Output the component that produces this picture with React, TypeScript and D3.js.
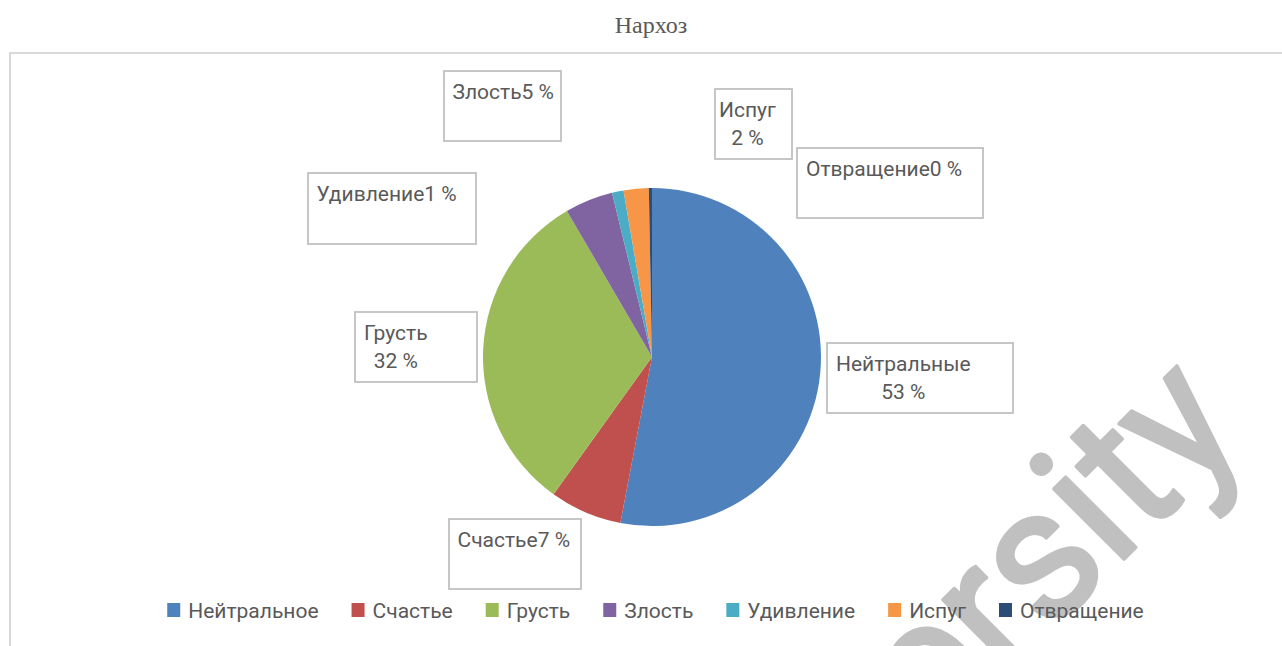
import React, { useMemo } from 'react';
import * as d3 from 'd3';

// ---- data ----
const title = 'Нархоз';
const categories = ['Нейтральное', 'Счастье', 'Грусть', 'Злость', 'Удивление', 'Испуг', 'Отвращение'];
const labelNames = ['Нейтральные', 'Счастье', 'Грусть', 'Злость', 'Удивление', 'Испуг', 'Отвращение'];
const values = [53.0, 6.9, 31.7, 4.6, 1.1, 2.4, 0.3];
const colors = ['#4F81BD', '#C0504D', '#9BBB59', '#8064A2', '#4BACC6', '#F79646', '#2C4D75'];
const watermark = 'University';

// ---- layout (label boxes relative to pie centre) ----
const labelLayout = [
  { dx: 175, dy: -14, w: 186, h: 70, pad: 9, wrap: true },
  { dx: -203, dy: 162, w: 132, h: 70, pad: 8.5, wrap: false },
  { dx: -297, dy: -45, w: 122, h: 70, pad: 9, wrap: true },
  { dx: -208, dy: -286, w: 117, h: 70, pad: 8.5, wrap: false },
  { dx: -344, dy: -184, w: 168, h: 71, pad: 8.5, wrap: false },
  { dx: 63, dy: -268, w: 77, h: 70, pad: 4, wrap: true },
  { dx: 145, dy: -209, w: 186, h: 70, pad: 9, wrap: false },
];

const W = 1282;
const H = 646;
const CX = 652;
const CY = 357;
const R = 169;
const SANS = 'Roboto, "Noto Sans", sans-serif';
const FS = 21;
const TEXT = '#595959';

let ctx: CanvasRenderingContext2D | null = null;
function measure(s: string, size = FS, font = SANS) {
  if (!ctx) ctx = document.createElement('canvas').getContext('2d');
  if (!ctx) return s.length * size * 0.5;
  ctx.font = `${size}px ${font}`;
  return ctx.measureText(s).width;
}

export default function App() {
  const arcs = useMemo(() => d3.pie<number>().sort(null).value((d) => d)(values), []);
  const arc = d3.arc<d3.PieArcDatum<number>>().innerRadius(0).outerRadius(R);
  const total = d3.sum(values);
  const pct = (v: number) => `${Math.round((v / total) * 100)} %`;

  // legend layout
  const sq = 13;
  const sqGap = 8;
  const itemGap = 33;
  const widths = categories.map((c) => measure(c));
  const itemW = widths.map((w) => sq + sqGap + w);
  const legendTotal = d3.sum(itemW) + itemGap * (categories.length - 1);
  const legendX0 = 655.5 - legendTotal / 2;
  const legendXs = itemW.map((_, i) => legendX0 + d3.sum(itemW.slice(0, i)) + itemGap * i);
  const legendBaseline = 618;

  // watermark geometry: anchor at the stem of the last "i" on the baseline
  const wmAngle = -45;
  const wmSize = 182;
  const wmFont = 'Roboto, sans-serif';
  const rad = (wmAngle * Math.PI) / 180;
  const anchorX = 1130;
  const anchorY = 553;
  const before = measure('Univers', wmSize, wmFont) + measure('i', wmSize, wmFont) / 2;
  const wmX = anchorX - before * Math.cos(rad);
  const wmY = anchorY - before * Math.sin(rad);

  return (
    <svg
      width={W}
      height={H}
      style={{ position: 'fixed', left: 0, top: 0, background: '#fff' }}
      fontFamily={SANS}
    >
      <rect x={0} y={0} width={W} height={H} fill="#fff" />
      <text x={651} y={33} textAnchor="middle" fontFamily='"Liberation Serif", "Times New Roman", serif' fontSize={24} fill={TEXT}>
        {title}
      </text>
      <rect x={10} y={53} width={W + 20} height={H} fill="none" stroke="#d9d9d9" strokeWidth={2} />

      <g transform={`translate(${CX},${CY})`}>
        {arcs.map((a, i) => (
          <path key={i} d={arc(a) || ''} fill={colors[i]} />
        ))}
      </g>

      {/* watermark */}
      <text
        transform={`translate(${wmX},${wmY}) rotate(${wmAngle}) scale(1,1.03)`}
        fontFamily={wmFont}
        fontSize={wmSize}
        fill="#c0c0c0"
        stroke="#c0c0c0"
        strokeWidth={3.5}
        strokeLinejoin="round"
      >
        {watermark}
      </text>

      {/* data labels */}
      {arcs.map((a, i) => {
        const L = labelLayout[i];
        const x = CX + L.dx;
        const y = CY + L.dy;
        const name = labelNames[i];
        const p = pct(a.value);
        const baseline = y + 28;
        if (L.wrap) {
          const cx = x + L.pad + Math.max(measure(name), measure(p)) / 2;
          return (
            <g key={i}>
              <rect x={x} y={y} width={L.w} height={L.h} fill="#fff" stroke="#bfbfbf" strokeWidth={1.75} />
              <text x={cx} y={baseline} textAnchor="middle" fontSize={FS} fill={TEXT}>{name}</text>
              <text x={cx} y={baseline + 28} textAnchor="middle" fontSize={FS} fill={TEXT}>{p}</text>
            </g>
          );
        }
        return (
          <g key={i}>
            <rect x={x} y={y} width={L.w} height={L.h} fill="#fff" stroke="#bfbfbf" strokeWidth={1.75} />
            <text x={x + L.pad} y={baseline} fontSize={FS} fill={TEXT}>{name + p}</text>
          </g>
        );
      })}

      {/* legend */}
      {categories.map((c, i) => (
        <g key={c}>
          <rect x={legendXs[i]} y={legendBaseline - 15} width={sq} height={14} fill={colors[i]} />
          <text x={legendXs[i] + sq + sqGap} y={legendBaseline} fontSize={FS} fill={TEXT}>{c}</text>
        </g>
      ))}
    </svg>
  );
}
